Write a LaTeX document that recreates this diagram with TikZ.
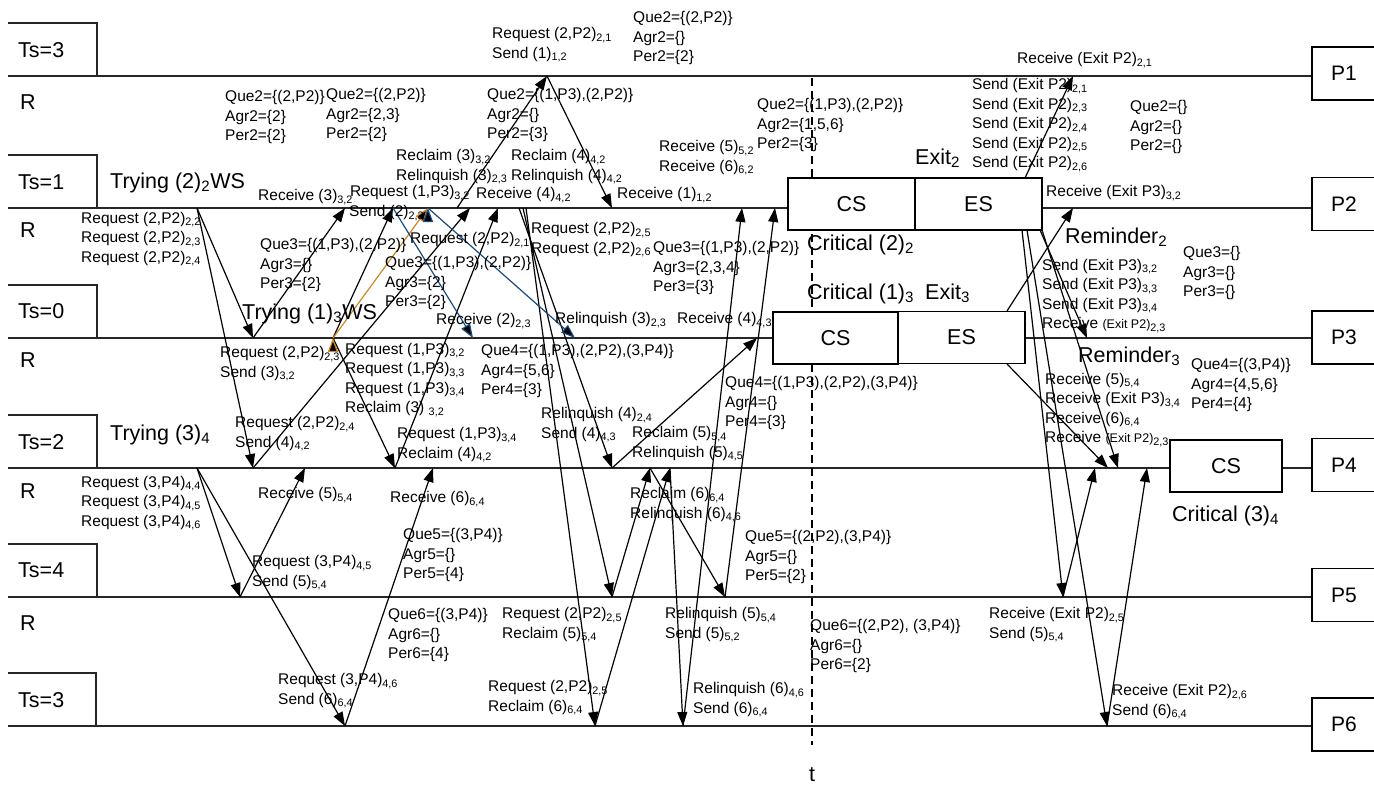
\documentclass[tikz,border=0pt]{standalone}
\usepackage{fontspec}
\setmainfont{Liberation Sans}
\usepackage{tikz}
\usetikzlibrary{arrows.meta}
\newcommand{\ix}[1]{\textsubscript{#1}}
\newcommand{\smallexit}[1]{{\fontsize{12.5}{12}\selectfont #1}}
\definecolor{linkblue}{RGB}{25,75,125}
\definecolor{linkorange}{RGB}{205,135,35}
\tikzset{
    %Define style for the process boxes
    pbox/.style={
           rectangle,
           draw=black, line width=1.4pt,
           fill=white,
           minimum width=64pt,
           minimum height=53pt,
           font=\fontsize{21}{24}\selectfont},
 %
    statebox/.style={
           rectangle,
           draw=black, line width=1.4pt,
           fill=white,
           minimum height=52pt,
           inner sep=0pt,
           font=\fontsize{21.5}{24}\selectfont},
 %
    procline/.style={
           draw=black!85, line width=1.6pt},
 %
    big/.style={
           anchor=west, inner sep=0pt,
           font=\fontsize{21.5}{24}\selectfont},
 %
    lbl/.style={
           anchor=west, inner sep=0pt, align=left,
           font=\fontsize{15.5}{19.5}\selectfont},
 %
    % Define arrow styles
    msg/.style={
           -{Triangle[length=14pt,width=10pt]},
           line width=1.2pt},
    colmsg/.style={
           -{Triangle[length=14pt,width=10pt,fill=black]},
           line width=1.2pt}
}
\begin{document}
\begin{tikzpicture}[x=1pt,y=-1pt]
  \useasboundingbox (0,0) rectangle (1374,787);
  % process boxes and time lines
  \node[pbox] (P1) at (1344,73.5) {P1};
  \node[pbox] (P2) at (1344,204) {P2};
  \node[pbox] (P3) at (1344,337.5) {P3};
  \node[pbox] (P4) at (1344,465) {P4};
  \node[pbox] (P5) at (1344,595) {P5};
  \node[pbox] (P6) at (1344,724.5) {P6};
  \coordinate (l1) at (8,76);
  \coordinate (l2) at (8,208);
  \coordinate (l3) at (8,338);
  \coordinate (l4) at (8,468);
  \coordinate (l5) at (8,597);
  \coordinate (l6) at (8,726);
  \draw[procline] (l1) -- (l1 -| P1.west);
  \draw[procline] (l2) -- (l2 -| P2.west);
  \draw[procline] (l3) -- (l3 -| P3.west);
  \draw[procline] (l4) -- (l4 -| P4.west);
  \draw[procline] (l5) -- (l5 -| P5.west);
  \draw[procline] (l6) -- (l6 -| P6.west);
  \draw[procline] (8,23) -| (97,76);
  \draw[procline] (8,155) -| (97,208);
  \draw[procline] (8,285) -| (97,338);
  \draw[procline] (8,415) -| (97,468);
  \draw[procline] (8,544) -| (97,597);
  \draw[procline] (8,673) -| (96,726);
  \node[big] (ts1) at (18,50) {Ts=3};
  \node[big] (ts2) at (18,182) {Ts=1};
  \node[big] (ts3) at (18,311) {Ts=0};
  \node[big] (ts4) at (18,442) {Ts=2};
  \node[big] (ts5) at (18,570) {Ts=4};
  \node[big] (ts6) at (18,700) {Ts=3};
  \node[big] (r1) at (20,102) {R};
  \node[big] (r2) at (20,230) {R};
  \node[big] (r3) at (20,360) {R};
  \node[big] (r4) at (20,491) {R};
  \node[big] (r5) at (20,623) {R};
  % time cut
  \coordinate (cut) at (812,78);
  \node[font=\fontsize{21.5}{24}\selectfont] (t) at (812,775) {t};
  \draw[line width=1.1pt, dash pattern=on 8pt off 5pt] (cut) -- (812,745);

  % events on the time lines
  \coordinate (p1req) at (547,76);
  \coordinate (p1exit) at (1073,76);
  \coordinate (p2try) at (197,208);
  \coordinate (p2rcv3) at (345,208);
  \coordinate (p2send2) at (393,208);
  \coordinate (p2rel3) at (428,208);
  \coordinate (p2req1) at (457,208);
  \coordinate (p2rcv4) at (470,208);
  \coordinate (p2rel4) at (498,208);
  \coordinate (p2out4) at (519,208);
  \coordinate (p2out5) at (523,208);
  \coordinate (p2out6) at (526,208);
  \coordinate (p2rcv1) at (612,208);
  \coordinate (p2rcv6) at (742,208);
  \coordinate (p2rcv5) at (775,208);
  \coordinate (p2exit) at (1073,208);
  \coordinate (p3rcvreq) at (253,338);
  \coordinate (p3try) at (333,338);
  \coordinate (p3rcv2) at (473,338);
  \coordinate (p3rel3) at (575,338);
  \coordinate (p3rcv4) at (757,338);
  \coordinate (p3exit) at (1087,338);
  \coordinate (p4try) at (197,468);
  \coordinate (p4rcvreq) at (253,468);
  \coordinate (p4rcv5) at (305,468);
  \coordinate (p4req3) at (395,468);
  \coordinate (p4rcv6) at (433,468);
  \coordinate (p4rel4) at (612,468);
  \coordinate (p4rcl5) at (650,468);
  \coordinate (p4rcl6) at (670,468);
  \coordinate (p4snd5) at (1095,468);
  \coordinate (p4exit3) at (1108,468);
  \coordinate (p4exit2) at (1118,468);
  \coordinate (p4snd6) at (1147,468);
  \coordinate (p5req) at (240,597);
  \coordinate (p5req2) at (612,597);
  \coordinate (p5rel) at (725,597);
  \coordinate (p5exit) at (1063,597);
  \coordinate (p6req) at (345,726);
  \coordinate (p6req2) at (595,726);
  \coordinate (p6rel) at (683,726);
  \coordinate (p6exit) at (1107,726);
  \coordinate (es2top) at (1025,178);
  \coordinate (es2a) at (1040,230);
  \coordinate (es2b) at (1042,230);
  \coordinate (es2c) at (1022,230);
  \coordinate (es2d) at (1027,230);
  \coordinate (es3top) at (1007,311);
  \coordinate (es3bot) at (1007,364);

  % messages
  \path[msg]
    (p2try) edge (p3rcvreq)
    (p2try) edge (p4rcvreq)
    (p4try) edge (p5req)
    (p4try) edge (p6req)
    (p3rcvreq) edge (p2rcv3)
    (p4rcvreq) edge (p2rcv4)
    (p5req) edge (p4rcv5)
    (p6req) edge (p4rcv6)
    (p3try) edge (p2send2)
    (p3try) edge (p4req3)
    (p4req3) edge (p2rel4)
    (p2req1) edge (p1req)
    (p1req) edge (p2rcv1)
    (p2out4) edge (p4rel4)
    (p2out5) edge (p5req2)
    (p2out6) edge (p6req2)
    (p4rel4) edge (p3rcv4)
    (p5req2) edge (p4rcl5)
    (p6req2) edge (p4rcl6)
    (p4rcl5) edge (p5rel)
    (p4rcl6) edge (p6rel)
    (p5rel) edge (p2rcv5)
    (p6rel) edge (p2rcv6)
    (es2top) edge (p1exit)
    (es2a) edge (p3exit)
    (es2b) edge (p4exit2)
    (es2c) edge (p5exit)
    (es2d) edge (p6exit)
    (es3top) edge (p2exit)
    (es3bot) edge (p4exit3)
    (p5exit) edge (p4snd5)
    (p6exit) edge (p4snd6);
  \path[colmsg, draw=linkorange] (p3try) edge (p2rel3);
  \path[colmsg, draw=linkblue]
    (p2send2) edge (p3rcv2)
    (p2rel3) edge (p3rel3);

  % critical and exit sections
  \node[statebox, minimum width=127pt] (cs2) at (851.5,204) {CS};
  \node[statebox, minimum width=127pt] (es2) at (978.5,204) {ES};
  \node[statebox, minimum width=125pt] (cs3) at (835.5,338) {CS};
  \node[statebox, minimum width=127pt] (es3) at (961.5,337.5) {ES};
  \node[statebox, minimum width=112pt] (cs4) at (1226,466) {CS};

  % states
  \node[big] (try2) at (110,183) {Trying (2)\ix{2}WS};
  \node[big] (try3) at (242,314) {Trying (1)\ix{3}WS};
  \node[big] (try4) at (110,435) {Trying (3)\ix{4}};
  \node[big] (exit2) at (915,158) {Exit\ix{2}};
  \node[big] (crit2) at (807,245) {Critical (2)\ix{2}};
  \node[big] (crit3) at (807,294) {Critical (1)\ix{3}};
  \node[big] (exit3) at (925,293) {Exit\ix{3}};
  \node[big] (rem2) at (1065,237) {Reminder\ix{2}};
  \node[big] (rem3) at (1078,356) {Reminder\ix{3}};
  \node[big] (crit4) at (1172,516) {Critical (3)\ix{4}};

  % message and queue labels
  \node[lbl] (la) at (492,45) {Request (2,P2)\ix{2,1}\\Send (1)\ix{1,2}};
  \node[lbl] (lb) at (633,38) {Que2=\{(2,P2)\}\\Agr2=\{\}\\Per2=\{2\}};
  \node[lbl] (lc) at (225,117) {Que2=\{(2,P2)\}\\Agr2=\{2\}\\Per2=\{2\}};
  \node[lbl] (ld) at (326,115) {Que2=\{(2,P2)\}\\Agr2=\{2,3\}\\Per2=\{2\}};
  \node[lbl] (le) at (487,115) {Que2=\{(1,P3),(2,P2)\}\\Agr2=\{\}\\Per2=\{3\}};
  \node[lbl] (lf) at (757,125) {Que2=\{(1,P3),(2,P2)\}\\Agr2=\{1,5,6\}\\Per2=\{3\}};
  \node[lbl] (lg) at (396,167) {Reclaim (3)\ix{3,2}\\Relinquish (3)\ix{2,3}};
  \node[lbl] (lh) at (511,167) {Reclaim (4)\ix{4,2}\\Relinquish (4)\ix{4,2}};
  \node[lbl] (li) at (659,158) {Receive (5)\ix{5,2}\\Receive (6)\ix{6,2}};
  \node[lbl] (lj) at (476,195) {Receive (4)\ix{4,2}};
  \node[lbl] (lk) at (617,195) {Receive (1)\ix{1,2}};
  \node[lbl] (ll) at (258,197) {Receive (3)\ix{3,2}};
  \node[lbl] (lm) at (350,193) {Request (1,P3)\ix{3,2}};
  \node[lbl] (ln) at (349,213) {Send (2)\ix{2,3}};
  \node[lbl] (lo) at (81,239) {Request (2,P2)\ix{2,2}\\Request (2,P2)\ix{2,3}\\Request (2,P2)\ix{2,4}};
  \node[lbl] (lp) at (260,265) {Que3=\{(1,P3),(2,P2)\}\\Agr3=\{\}\\Per3=\{2\}};
  \node[lbl] (lq) at (410,240) {Request (2,P2)\ix{2,1}};
  \node[lbl] (lr) at (385,283) {Que3=\{(1,P3),(2,P2)\}\\Agr3=\{2\}\\Per3=\{2\}};
  \node[lbl] (ls) at (436,321) {Receive (2)\ix{2,3}};
  \node[lbl] (lt) at (531,240) {Request (2,P2)\ix{2,5}\\Request (2,P2)\ix{2,6}};
  \node[lbl] (lu) at (653,268) {Que3=\{(1,P3),(2,P2)\}\\Agr3=\{2,3,4\}\\Per3=\{3\}};
  \node[lbl] (lv) at (555,320) {Relinquish (3)\ix{2,3}};
  \node[lbl] (lw) at (677,320) {Receive (4)\ix{4,3}};
  \node[lbl] (lx) at (220,364) {Request (2,P2)\ix{2,3}\\Send (3)\ix{3,2}};
  \node[lbl] (ly) at (345,380) {Request (1,P3)\ix{3,2}\\Request (1,P3)\ix{3,3}\\Request (1,P3)\ix{3,4}\\Reclaim (3) \ix{3,2}};
  \node[lbl] (lz) at (481,371) {Que4=\{(1,P3),(2,P2),(3,P4)\}\\Agr4=\{5,6\}\\Per4=\{3\}};
  \node[lbl] (laa) at (235,434) {Request (2,P2)\ix{2,4}\\Send (4)\ix{4,2}};
  \node[lbl] (lab) at (397,445) {Request (1,P3)\ix{3,4}\\Reclaim (4)\ix{4,2}};
  \node[lbl] (lac) at (541,425) {Relinquish (4)\ix{2,4}\\Send (4)\ix{4,3}};
  \node[lbl] (lad) at (725,403) {Que4=\{(1,P3),(2,P2),(3,P4)\}\\Agr4=\{\}\\Per4=\{3\}};
  \node[lbl] (lae) at (632,444) {Reclaim (5)\ix{5,4}\\Relinquish (5)\ix{4,5}};
  \node[lbl] (laf) at (81,503) {Request (3,P4)\ix{4,4}\\Request (3,P4)\ix{4,5}\\Request (3,P4)\ix{4,6}};
  \node[lbl] (lag) at (258,495) {Receive (5)\ix{5,4}};
  \node[lbl] (lah) at (390,499) {Receive (6)\ix{6,4}};
  \node[lbl] (lai) at (630,505) {Reclaim (6)\ix{6,4}\\Relinquish (6)\ix{4,6}};
  \node[lbl] (laj) at (403,555) {Que5=\{(3,P4)\}\\Agr5=\{\}\\Per5=\{4\}};
  \node[lbl] (lak) at (252,573) {Request (3,P4)\ix{4,5}\\Send (5)\ix{5,4}};
  \node[lbl] (lal) at (388,635) {Que6=\{(3,P4)\}\\Agr6=\{\}\\Per6=\{4\}};
  \node[lbl] (lam) at (278,691) {Request (3,P4)\ix{4,6}\\Send (6)\ix{6,4}};
  \node[lbl] (lan) at (502,625) {Request (2,P2)\ix{2,5}\\Reclaim (5)\ix{5,4}};
  \node[lbl] (lao) at (488,698) {Request (2,P2)\ix{2,5}\\Reclaim (6)\ix{6,4}};
  \node[lbl] (lap) at (665,625) {Relinquish (5)\ix{5,4}\\Send (5)\ix{5,2}};
  \node[lbl] (laq) at (693,700) {Relinquish (6)\ix{4,6}\\Send (6)\ix{6,4}};
  \node[lbl] (lar) at (745,557) {Que5=\{(2,P2),(3,P4)\}\\Agr5=\{\}\\Per5=\{2\}};
  \node[lbl] (las) at (810,646) {Que6=\{(2,P2), (3,P4)\}\\Agr6=\{\}\\Per6=\{2\}};
  \node[lbl] (lat) at (1017,60) {Receive (Exit P2)\ix{2,1}};
  \node[lbl] (lau) at (972,125) {Send (Exit P2)\ix{2,1}\\Send (Exit P2)\ix{2,3}\\Send (Exit P2)\ix{2,4}\\Send (Exit P2)\ix{2,5}\\Send (Exit P2)\ix{2,6}};
  \node[lbl] (lav) at (1130,127) {Que2=\{\}\\Agr2=\{\}\\Per2=\{\}};
  \node[lbl] (law) at (1046,193) {Receive (Exit P3)\ix{3,2}};
  \node[lbl] (lax) at (1183,273) {Que3=\{\}\\Agr3=\{\}\\Per3=\{\}};
  \node[lbl] (lay) at (1042,296) {Send (Exit P3)\ix{3,2}\\Send (Exit P3)\ix{3,3}\\Send (Exit P3)\ix{3,4}\\Receive \smallexit{(Exit P2)}\ix{2,3}};
  \node[lbl] (laz) at (1191,385) {Que4=\{(3,P4)\}\\Agr4=\{4,5,6\}\\Per4=\{4\}};
  \node[lbl] (lba) at (1045,410) {Receive (5)\ix{5,4}\\Receive (Exit P3)\ix{3,4}\\Receive (6)\ix{6,4}\\Receive \smallexit{(Exit P2)}\ix{2,3}};
  \node[lbl] (lbb) at (989,625) {Receive (Exit P2)\ix{2,5}\\Send (5)\ix{5,4}};
  \node[lbl] (lbc) at (1112,702) {Receive (Exit P2)\ix{2,6}\\Send (6)\ix{6,4}};
\end{tikzpicture}
\end{document}
